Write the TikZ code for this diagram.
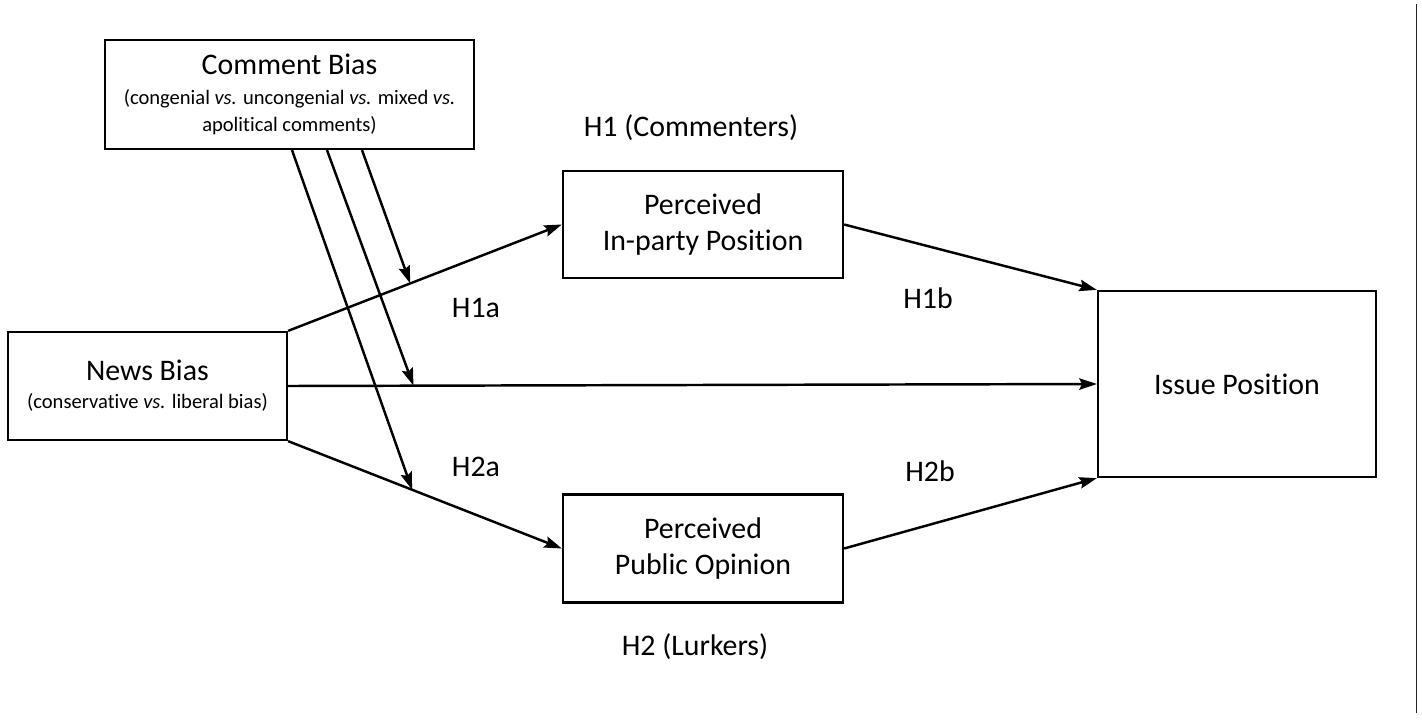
\documentclass[tikz,border=0pt]{standalone}
\usepackage{fontspec}
\setmainfont{Carlito}[Ligatures=NoCommon]
\usetikzlibrary{arrows.meta}
\usetikzlibrary{calc}
\usetikzlibrary{positioning}
\newcommand{\subfnt}{\fontsize{11.7}{14}\selectfont}

\begin{document}
\begin{tikzpicture}[x=0.02cm, y=-0.02cm, line width=1.3pt]
    \tikzstyle{box}=[draw, rectangle, inner sep=2pt, align=center, font=\fontsize{17}{20.5}\selectfont]
    \tikzstyle{hyp}=[inner sep=1pt, font=\fontsize{17}{20}\selectfont]
    \tikzset{->-/.style={line width=1.4pt, -{Stealth[length=10pt, width=6.5pt, inset=1.5pt]}}}
    \useasboundingbox (0,0) rectangle (1422,720);
    \node[box, minimum width=7.38cm, minimum height=2.18cm] (comment) at (289.5,94.5)
      {Comment Bias\\[-3.5pt]{\subfnt (congenial \textit{vs.} uncongenial \textit{vs.} mixed \textit{vs.}}\\[-5pt]{\subfnt apolitical comments)}};
    \node[box, minimum width=5.58cm, minimum height=2.16cm] (news) at (147.5,386)
      {News Bias\\[-4.5pt]{\subfnt (conservative \textit{vs.} liberal bias)}};
    \node[box, minimum width=5.6cm, minimum height=2.14cm] (inparty) at (703,224.5) {Perceived\\In-party Position};
    \node[box, minimum width=5.6cm, minimum height=2.16cm] (publicop) at (703,548.5) {Perceived\\Public Opinion};
    \node[box, minimum width=5.56cm, minimum height=3.72cm] (issue) at (1237,384) {Issue Position};
    \node[hyp] (h1) at (691,128) {H1 (Commenters)};
    \node[hyp] (h2) at (695,647) {H2 (Lurkers)};
    \node[hyp] (h1a) at (476,308) {H1a};
    \node[hyp] (h1b) at (928,298) {H1b};
    \node[hyp] (h2a) at (476,467) {H2a};
    \node[hyp] (h2b) at (930,471) {H2b};
    % paths of the model
    \foreach \i/\j in
    {news.north east/inparty.west, news.east/issue.west, news.south east/publicop.west,
     inparty.east/issue.north west, publicop.east/issue.south west}
    {\draw[->-] (\i) -- (\j);}
    % moderation by comment bias
    \coordinate (c1) at ([xshift=0.05cm]comment.south);
    \coordinate (c2) at ([xshift=0.75cm]comment.south);
    \coordinate (c3) at ([xshift=1.45cm]comment.south);
    \coordinate (t1) at ($(news.north east)!0.446!(inparty.west)$);
    \coordinate (t2) at ($(news.east)!0.155!(issue.west)$);
    \coordinate (t3) at ($(news.south east)!0.453!(publicop.west)$);
    \foreach \i/\j in {c3/t1, c2/t2, c1/t3}
    {\draw[->-] (\i) -- (\j);}
    \draw[black!85, line width=1pt] (1416.5,4) -- (1416.5,713);
\end{tikzpicture}
\end{document}
